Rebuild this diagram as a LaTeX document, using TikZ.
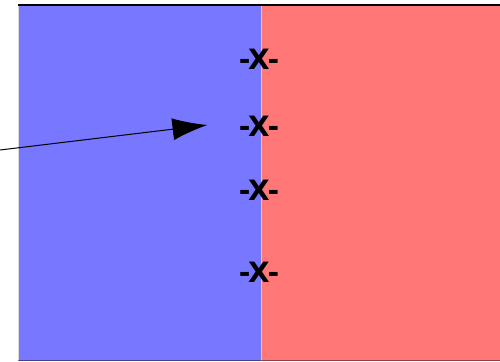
\documentclass[tikz,border=0pt]{standalone}
\usepackage{fontspec}
\setmainfont{DejaVu Sans}
\usetikzlibrary{arrows.meta}
\definecolor{leftblue}{RGB}{119,119,255}
\definecolor{rightred}{RGB}{255,119,119}
\tikzset{
  xmark/.style={font=\bfseries\fontsize{28}{30}\selectfont,xscale=1.0,inner sep=0pt},
}
\begin{document}
\begin{tikzpicture}[x=1pt,y=-1pt]
\useasboundingbox (0,0) rectangle (500,361);
\fill [leftblue](18,6) rectangle (261,361);
\fill [rightred](261,6) rectangle (500,361);
\draw [very thin,color=leftblue!40!white](261,6) -- (261,361);
\draw [very thin,color=black!15](17.6,6) -- (17.6,361);
\draw [thin,color=black,opacity=0.45](18,360.5) -- (500,360.5);
\draw [line width=2.5pt](18,5) -- (500,5);
\node [xmark] (x1) at (259,59) {-X-};
\node [xmark] (x2) at (259,126) {-X-};
\node [xmark] (x3) at (259,190) {-X-};
\node [xmark] (x4) at (259,272) {-X-};
\coordinate (start) at (0,150);
\coordinate (tip) at (207.5,125);
\draw [line width=1pt,-{Latex[length=35pt,width=22pt]}](start) -- (tip);
\end{tikzpicture}
\end{document}
